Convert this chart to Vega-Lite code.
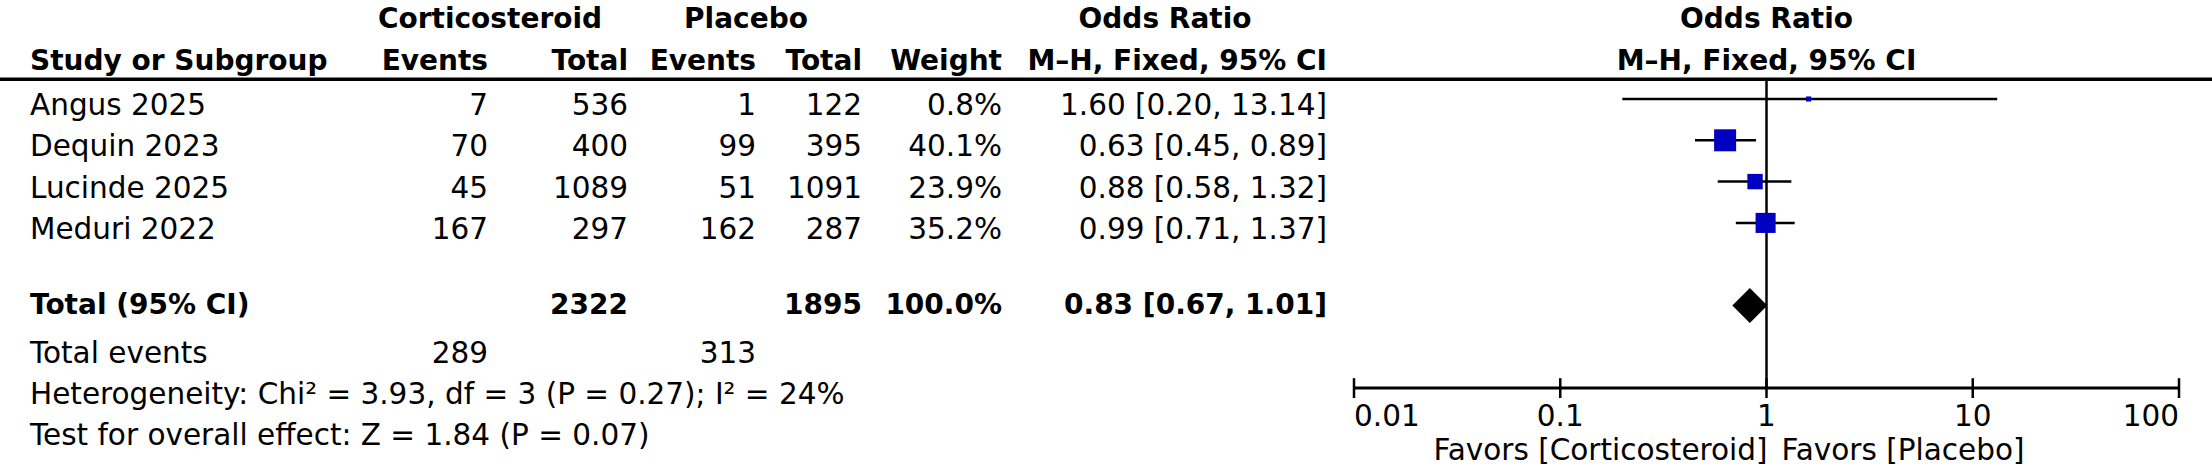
{
  "$schema": "https://vega.github.io/schema/vega-lite/v6.json",
  "autosize": "none",
  "width": 2212,
  "height": 388,
  "padding": {"left": 0, "top": 0, "right": 0, "bottom": 82},
  "background": "white",
  "config": {
    "view": {"stroke": null},
    "font": "DejaVu Sans",
    "text": {"font": "DejaVu Sans", "fontSize": 29.5, "color": "black"}
  },
  "datasets": {
    "cells": [
      {"part": "head", "row": 0, "col": 7, "label": "Corticosteroid"},
      {"part": "head", "row": 0, "col": 8, "label": "Placebo"},
      {"part": "head", "row": 0, "col": 9, "label": "Odds Ratio"},
      {"part": "head", "row": 1, "col": 0, "label": "Study or Subgroup"},
      {"part": "head", "row": 1, "col": 1, "label": "Events"},
      {"part": "head", "row": 1, "col": 2, "label": "Total"},
      {"part": "head", "row": 1, "col": 3, "label": "Events"},
      {"part": "head", "row": 1, "col": 4, "label": "Total"},
      {"part": "head", "row": 1, "col": 5, "label": "Weight"},
      {"part": "head", "row": 1, "col": 6, "label": "M–H, Fixed, 95% CI"},
      {"part": "study", "row": 2, "col": 0, "label": "Angus 2025"},
      {"part": "study", "row": 2, "col": 1, "label": "7"},
      {"part": "study", "row": 2, "col": 2, "label": "536"},
      {"part": "study", "row": 2, "col": 3, "label": "1"},
      {"part": "study", "row": 2, "col": 4, "label": "122"},
      {"part": "study", "row": 2, "col": 5, "label": "0.8%"},
      {"part": "study", "row": 2, "col": 6, "label": "1.60 [0.20, 13.14]"},
      {"part": "study", "row": 3, "col": 0, "label": "Dequin 2023"},
      {"part": "study", "row": 3, "col": 1, "label": "70"},
      {"part": "study", "row": 3, "col": 2, "label": "400"},
      {"part": "study", "row": 3, "col": 3, "label": "99"},
      {"part": "study", "row": 3, "col": 4, "label": "395"},
      {"part": "study", "row": 3, "col": 5, "label": "40.1%"},
      {"part": "study", "row": 3, "col": 6, "label": "0.63 [0.45, 0.89]"},
      {"part": "study", "row": 4, "col": 0, "label": "Lucinde 2025"},
      {"part": "study", "row": 4, "col": 1, "label": "45"},
      {"part": "study", "row": 4, "col": 2, "label": "1089"},
      {"part": "study", "row": 4, "col": 3, "label": "51"},
      {"part": "study", "row": 4, "col": 4, "label": "1091"},
      {"part": "study", "row": 4, "col": 5, "label": "23.9%"},
      {"part": "study", "row": 4, "col": 6, "label": "0.88 [0.58, 1.32]"},
      {"part": "study", "row": 5, "col": 0, "label": "Meduri 2022"},
      {"part": "study", "row": 5, "col": 1, "label": "167"},
      {"part": "study", "row": 5, "col": 2, "label": "297"},
      {"part": "study", "row": 5, "col": 3, "label": "162"},
      {"part": "study", "row": 5, "col": 4, "label": "287"},
      {"part": "study", "row": 5, "col": 5, "label": "35.2%"},
      {"part": "study", "row": 5, "col": 6, "label": "0.99 [0.71, 1.37]"},
      {"part": "total", "row": 7, "col": 0, "label": "Total (95% CI)"},
      {"part": "total", "row": 7, "col": 2, "label": "2322"},
      {"part": "total", "row": 7, "col": 4, "label": "1895"},
      {"part": "total", "row": 7, "col": 5, "label": "100.0%"},
      {"part": "total", "row": 7, "col": 6, "label": "0.83 [0.67, 1.01]"},
      {"part": "foot", "row": 8, "col": 0, "label": "Total events"},
      {"part": "foot", "row": 8, "col": 1, "label": "289"},
      {"part": "foot", "row": 8, "col": 3, "label": "313"},
      {"part": "foot", "row": 9, "col": 0, "label": "Heterogeneity: Chi² = 3.93, df = 3 (P = 0.27); I² = 24%"},
      {"part": "foot", "row": 10, "col": 0, "label": "Test for overall effect: Z = 1.84 (P = 0.07)"}
    ],
    "studies": [
      {"study": "Angus 2025", "row": 2, "or": 1.60, "lo": 0.20, "hi": 13.14, "weight": 0.8},
      {"study": "Dequin 2023", "row": 3, "or": 0.63, "lo": 0.45, "hi": 0.89, "weight": 40.1},
      {"study": "Lucinde 2025", "row": 4, "or": 0.88, "lo": 0.58, "hi": 1.32, "weight": 23.9},
      {"study": "Meduri 2022", "row": 5, "or": 0.99, "lo": 0.71, "hi": 1.37, "weight": 35.2}
    ],
    "pooled": [
      {"study": "Total (95% CI)", "row": 7, "or": 0.83, "lo": 0.67, "hi": 1.01}
    ],
    "plothead": [
      {"row": 0, "label": "Odds Ratio"},
      {"row": 1, "label": "M–H, Fixed, 95% CI"}
    ],
    "ticks": [
      {"t": 0.01, "label": "0.01"},
      {"t": 0.1, "label": "0.1"},
      {"t": 1, "label": "1"},
      {"t": 10, "label": "10"},
      {"t": 100, "label": "100"}
    ],
    "favors": [
      {"side": "left", "label": "Favors [Corticosteroid]"},
      {"side": "right", "label": "Favors [Placebo]"}
    ]
  },
  "resolve": {"scale": {"x": "independent"}},
  "layer": [
    {
      "data": {"values": [{}]},
      "mark": {"type": "rule", "color": "black", "strokeWidth": 3.5},
      "encoding": {
        "y": {"datum": 1.52, "type": "quantitative", "scale": {"domain": [0, 10], "range": [16.4, 429.4], "zero": false, "nice": false}, "axis": null}
      }
    },
    {
      "data": {"name": "cells"},
      "encoding": {
        "x": {
          "field": "col",
          "type": "quantitative",
          "scale": {
            "domain": [0, 1, 2, 3, 4, 5, 6, 7, 8, 9],
            "range": [30, 488, 628, 756, 862, 1002, 1327, 490, 746, 1165],
            "zero": false,
            "nice": false
          },
          "axis": null
        },
        "y": {"field": "row", "type": "quantitative", "scale": {"domain": [0, 10], "range": [16.4, 429.4], "zero": false, "nice": false}, "axis": null},
        "text": {"field": "label", "type": "nominal"}
      },
      "layer": [
        {
          "transform": [{"filter": "(datum.part == 'study' || datum.part == 'foot') && datum.col == 0"}],
          "mark": {"type": "text", "align": "left", "baseline": "middle", "dy": 7}
        },
        {
          "transform": [{"filter": "(datum.part == 'study' || datum.part == 'foot') && datum.col > 0"}],
          "mark": {"type": "text", "align": "right", "baseline": "middle", "dy": 7}
        },
        {
          "transform": [{"filter": "datum.part == 'head' && datum.col == 0"}],
          "mark": {"type": "text", "align": "left", "baseline": "middle", "dy": 4, "fontWeight": "bold", "fontSize": 28}
        },
        {
          "transform": [{"filter": "datum.part == 'head' && datum.col > 0 && datum.col < 7"}],
          "mark": {"type": "text", "align": "right", "baseline": "middle", "dy": 4, "fontWeight": "bold", "fontSize": 28}
        },
        {
          "transform": [{"filter": "datum.part == 'head' && datum.col >= 7"}],
          "mark": {"type": "text", "align": "center", "baseline": "middle", "dy": 4, "fontWeight": "bold", "fontSize": 28}
        },
        {
          "transform": [{"filter": "datum.part == 'total' && datum.col == 0"}],
          "mark": {"type": "text", "align": "left", "baseline": "middle", "dy": 0, "fontWeight": "bold", "fontSize": 28}
        },
        {
          "transform": [{"filter": "datum.part == 'total' && datum.col > 0"}],
          "mark": {"type": "text", "align": "right", "baseline": "middle", "dy": 0, "fontWeight": "bold", "fontSize": 28}
        }
      ]
    },
    {
      "layer": [
        {
          "data": {"values": [{}]},
          "mark": {"type": "rule", "color": "black", "strokeWidth": 2.5},
          "encoding": {
            "x": {"datum": 1, "type": "quantitative", "scale": {"type": "log", "domain": [0.01, 100], "range": [1354, 2179]}, "axis": null},
            "y": {"datum": 1.52, "type": "quantitative", "scale": {"domain": [0, 10], "range": [16.4, 429.4], "zero": false, "nice": false}, "axis": null},
            "y2": {"datum": 9}
          }
        },
        {
          "data": {"name": "studies"},
          "mark": {"type": "rule", "color": "black", "strokeWidth": 2.5},
          "encoding": {
            "x": {"field": "lo", "type": "quantitative", "scale": {"type": "log", "domain": [0.01, 100], "range": [1354, 2179]}, "axis": null},
            "x2": {"field": "hi"},
            "y": {"field": "row", "type": "quantitative", "scale": {"domain": [0, 10], "range": [16.4, 429.4], "zero": false, "nice": false}, "axis": null}
          }
        },
        {
          "data": {"name": "studies"},
          "mark": {"type": "point", "shape": "square", "filled": true, "color": "#0000c0", "opacity": 1},
          "encoding": {
            "x": {"field": "or", "type": "quantitative", "scale": {"type": "log", "domain": [0.01, 100], "range": [1354, 2179]}, "axis": null},
            "y": {"field": "row", "type": "quantitative", "scale": {"domain": [0, 10], "range": [16.4, 429.4], "zero": false, "nice": false}, "axis": null},
            "size": {"field": "weight", "type": "quantitative", "scale": {"type": "pow", "exponent": 1.5, "domain": [0, 40.1], "range": [25, 484], "zero": false}, "legend": null}
          }
        },
        {
          "data": {"name": "pooled"},
          "mark": {"type": "point", "shape": "M-1,0L0,-1L1,0L0,1Z", "filled": true, "color": "black", "opacity": 1, "size": 1225},
          "encoding": {
            "x": {"field": "or", "type": "quantitative", "scale": {"type": "log", "domain": [0.01, 100], "range": [1354, 2179]}, "axis": null},
            "y": {"field": "row", "type": "quantitative", "scale": {"domain": [0, 10], "range": [16.4, 429.4], "zero": false, "nice": false}, "axis": null}
          }
        },
        {
          "data": {"values": [{}]},
          "mark": {"type": "rule", "color": "black", "strokeWidth": 3},
          "encoding": {
            "x": {"datum": 0.01, "type": "quantitative", "scale": {"type": "log", "domain": [0.01, 100], "range": [1354, 2179]}, "axis": null},
            "x2": {"datum": 100},
            "y": {"datum": 9, "type": "quantitative", "scale": {"domain": [0, 10], "range": [16.4, 429.4], "zero": false, "nice": false}, "axis": null}
          }
        },
        {
          "data": {"name": "ticks"},
          "mark": {"type": "rule", "color": "black", "strokeWidth": 2.5},
          "encoding": {
            "x": {"field": "t", "type": "quantitative", "scale": {"type": "log", "domain": [0.01, 100], "range": [1354, 2179]}, "axis": null},
            "y": {"datum": 8.76, "type": "quantitative", "scale": {"domain": [0, 10], "range": [16.4, 429.4], "zero": false, "nice": false}, "axis": null},
            "y2": {"datum": 9.24}
          }
        },
        {
          "data": {"name": "ticks"},
          "transform": [{"filter": "datum.t == 0.01"}],
          "mark": {"type": "text", "align": "left", "baseline": "middle", "dy": 29},
          "encoding": {
            "x": {"field": "t", "type": "quantitative", "scale": {"type": "log", "domain": [0.01, 100], "range": [1354, 2179]}, "axis": null},
            "y": {"datum": 9, "type": "quantitative", "scale": {"domain": [0, 10], "range": [16.4, 429.4], "zero": false, "nice": false}, "axis": null},
            "text": {"field": "label", "type": "nominal"}
          }
        },
        {
          "data": {"name": "ticks"},
          "transform": [{"filter": "datum.t > 0.01 && datum.t < 100"}],
          "mark": {"type": "text", "align": "center", "baseline": "middle", "dy": 29},
          "encoding": {
            "x": {"field": "t", "type": "quantitative", "scale": {"type": "log", "domain": [0.01, 100], "range": [1354, 2179]}, "axis": null},
            "y": {"datum": 9, "type": "quantitative", "scale": {"domain": [0, 10], "range": [16.4, 429.4], "zero": false, "nice": false}, "axis": null},
            "text": {"field": "label", "type": "nominal"}
          }
        },
        {
          "data": {"name": "ticks"},
          "transform": [{"filter": "datum.t == 100"}],
          "mark": {"type": "text", "align": "right", "baseline": "middle", "dy": 29},
          "encoding": {
            "x": {"field": "t", "type": "quantitative", "scale": {"type": "log", "domain": [0.01, 100], "range": [1354, 2179]}, "axis": null},
            "y": {"datum": 9, "type": "quantitative", "scale": {"domain": [0, 10], "range": [16.4, 429.4], "zero": false, "nice": false}, "axis": null},
            "text": {"field": "label", "type": "nominal"}
          }
        },
        {
          "data": {"name": "plothead"},
          "mark": {"type": "text", "align": "center", "baseline": "middle", "dy": 4, "fontWeight": "bold", "fontSize": 28},
          "encoding": {
            "x": {"datum": 1, "type": "quantitative", "scale": {"type": "log", "domain": [0.01, 100], "range": [1354, 2179]}, "axis": null},
            "y": {"field": "row", "type": "quantitative", "scale": {"domain": [0, 10], "range": [16.4, 429.4], "zero": false, "nice": false}, "axis": null},
            "text": {"field": "label", "type": "nominal"}
          }
        },
        {
          "data": {"name": "favors"},
          "transform": [{"filter": "datum.side == 'left'"}],
          "mark": {"type": "text", "align": "right", "baseline": "middle", "dx": 1, "dy": 22},
          "encoding": {
            "x": {"datum": 1, "type": "quantitative", "scale": {"type": "log", "domain": [0.01, 100], "range": [1354, 2179]}, "axis": null},
            "y": {"datum": 10, "type": "quantitative", "scale": {"domain": [0, 10], "range": [16.4, 429.4], "zero": false, "nice": false}, "axis": null},
            "text": {"field": "label", "type": "nominal"}
          }
        },
        {
          "data": {"name": "favors"},
          "transform": [{"filter": "datum.side == 'right'"}],
          "mark": {"type": "text", "align": "left", "baseline": "middle", "dx": 15, "dy": 22},
          "encoding": {
            "x": {"datum": 1, "type": "quantitative", "scale": {"type": "log", "domain": [0.01, 100], "range": [1354, 2179]}, "axis": null},
            "y": {"datum": 10, "type": "quantitative", "scale": {"domain": [0, 10], "range": [16.4, 429.4], "zero": false, "nice": false}, "axis": null},
            "text": {"field": "label", "type": "nominal"}
          }
        }
      ]
    }
  ]
}
